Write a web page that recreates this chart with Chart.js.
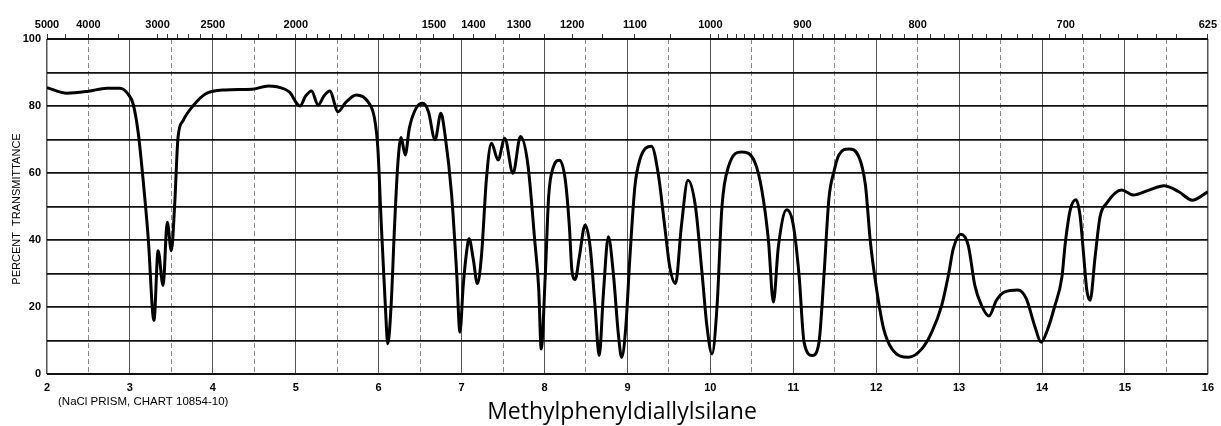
<!DOCTYPE html>
<html>
<head>
<meta charset="utf-8">
<script src="https://cdn.jsdelivr.net/npm/chart.js@4/dist/chart.umd.min.js"></script>
<style>
  html, body { margin: 0; padding: 0; background: #fff; }
  #wrap { width: 1221px; height: 426px; }
</style>
</head>
<body>
<div id="wrap"><canvas id="c" width="1221" height="426"></canvas></div>
<script>
// Wavelength (microns)
const wavelength = [
  2.00, 2.24, 2.50, 2.72, 2.88, 2.98, 3.04, 3.10, 3.16, 3.22, 3.29, 3.34, 3.40, 3.45, 3.50, 3.54, 3.58, 3.64, 3.76, 3.91,
  4.15, 4.47, 4.67, 4.87, 4.93, 5.02, 5.05, 5.12, 5.19, 5.27, 5.34, 5.41, 5.51, 5.60, 5.73, 5.87, 5.95, 5.99, 6.03, 6.08,
  6.11, 6.15, 6.19, 6.23, 6.27, 6.32, 6.37, 6.45, 6.53, 6.60, 6.68, 6.75, 6.80, 6.88, 6.94, 6.98, 7.02, 7.06, 7.09, 7.14,
  7.19, 7.24, 7.30, 7.36, 7.44, 7.52, 7.62, 7.71, 7.80, 7.88, 7.93, 7.96, 8.01, 8.05, 8.11, 8.18, 8.25, 8.30, 8.33, 8.37,
  8.42, 8.49, 8.55, 8.61, 8.66, 8.71, 8.77, 8.83, 8.89, 8.93, 8.98, 9.03, 9.09, 9.15, 9.29, 9.37, 9.45, 9.51, 9.58, 9.65,
  9.73, 9.82, 9.90, 9.96, 10.02, 10.08, 10.14, 10.22, 10.38, 10.54, 10.62, 10.70, 10.76, 10.82, 10.92, 11.00, 11.07, 11.13, 11.23, 11.31,
  11.37, 11.43, 11.49, 11.55, 11.67, 11.79, 11.87, 11.93, 12.01, 12.09, 12.19, 12.39, 12.55, 12.67, 12.79, 12.87, 12.93, 13.02, 13.11, 13.19,
  13.27, 13.36, 13.45, 13.55, 13.71, 13.81, 13.91, 13.99, 14.07, 14.15, 14.24, 14.28, 14.34, 14.41, 14.46, 14.50, 14.54, 14.58, 14.64, 14.70,
  14.78, 14.96, 15.10, 15.29, 15.47, 15.65, 15.81, 16.00
];
// Percent transmittance
const transmittance = [
  85.5, 83.8, 84.4, 85.3, 85.3, 83.5, 80.5, 72.0, 57.7, 40.8, 16.0, 36.8, 26.4, 45.3, 36.8, 50.7, 70.6, 75.6, 80.0, 83.6,
  84.8, 85.0, 86.0, 85.0, 84.0, 80.5, 80.0, 83.0, 84.5, 80.3, 83.0, 84.5, 78.3, 81.0, 83.3, 81.3, 76.3, 67.4, 45.4, 20.5,
  9.0, 20.5, 43.4, 62.4, 70.6, 65.4, 73.4, 79.3, 80.8, 78.3, 69.9, 77.8, 71.4, 53.4, 30.4, 12.5, 26.5, 36.4, 40.4, 34.4,
  27.0, 35.4, 58.4, 68.9, 63.9, 70.4, 59.9, 70.9, 62.4, 40.4, 25.4, 7.5, 30.0, 53.0, 62.0, 63.8, 58.0, 44.0, 31.0, 28.2,
  35.0, 44.5, 38.0, 20.0, 5.5, 24.0, 41.0, 30.0, 12.0, 5.0, 14.0, 35.0, 56.0, 64.0, 68.0, 60.0, 44.0, 32.0, 27.0, 44.0,
  57.8, 50.0, 30.0, 14.0, 6.0, 20.0, 50.0, 62.0, 66.3, 63.0, 55.0, 40.0, 21.5, 38.0, 49.0, 44.5, 29.4, 9.5, 5.5, 9.5,
  29.4, 52.4, 60.4, 65.4, 67.2, 64.9, 56.4, 39.4, 24.5, 13.5, 7.5, 5.0, 7.5, 12.5, 20.5, 29.4, 37.4, 41.7, 38.4, 26.4,
  20.5, 17.3, 22.0, 24.5, 25.1, 22.5, 14.5, 9.5, 13.5, 20.0, 29.0, 39.0, 49.0, 52.0, 47.0, 36.0, 25.0, 22.0, 35.0, 47.0,
  51.0, 54.9, 53.4, 54.9, 56.2, 54.4, 51.9, 54.4
];
// Top axis: wavenumber labels (cm-1)
const wavenumberLabels = [5000, 4000, 3000, 2500, 2000, 1500, 1400, 1300, 1200, 1100, 1000, 900, 800, 700, 625];
// Bottom axis labels (microns)
const micronLabels = [2, 3, 4, 5, 6, 7, 8, 9, 10, 11, 12, 13, 14, 15, 16];
// Y axis labels
const percentLabels = [0, 20, 40, 60, 80, 100];

const titleText = 'Methylphenyldiallylsilane';
const noteText = '(NaCl PRISM, CHART 10854-10)';
const yTitleText = 'PERCENT  TRANSMITTANCE';

// minor wavenumber ticks
const minorWavenumbers = [];
for (let w = 4500; w > 3000; w -= 500) minorWavenumbers.push(w);
for (let w = 2900; w > 2000; w -= 100) minorWavenumbers.push(w);
for (let w = 1950; w > 1000; w -= 50) minorWavenumbers.push(w);
for (let w = 990; w > 630; w -= 10) minorWavenumbers.push(w);
const allWavenumbers = Array.from(new Set(wavenumberLabels.concat(minorWavenumbers))).sort((a, b) => b - a);

const points = wavelength.map((x, i) => ({ x: x, y: transmittance[i] }));

const tickFont = { family: 'Liberation Sans', size: 11, weight: 'bold' };

const textPlugin = {
  id: 'texts',
  afterDraw(chart) {
    const ctx = chart.ctx;
    ctx.save();
    ctx.fillStyle = '#000';
    ctx.textBaseline = 'alphabetic';
    ctx.textAlign = 'center';
    ctx.font = '23px "Open Sans"';
    ctx.fillText(titleText, 622, 419);
    ctx.textAlign = 'left';
    ctx.font = '11.5px "Liberation Sans"';
    ctx.fillText(noteText, 58, 405);
    ctx.translate(20, 209);
    ctx.rotate(-Math.PI / 2);
    ctx.textAlign = 'center';
    ctx.font = '11px "Liberation Sans"';
    ctx.fillText(yTitleText, 0, 0);
    ctx.restore();
  }
};

new Chart(document.getElementById('c'), {
  type: 'line',
  data: {
    datasets: [{
      data: points,
      borderColor: '#000',
      borderWidth: 3,
      pointRadius: 0,
      fill: false,
      cubicInterpolationMode: 'monotone'
    }]
  },
  options: {
    responsive: false,
    animation: false,
    devicePixelRatio: 1,
    layout: { padding: { left: 0, right: 13, top: 0, bottom: 0 } },
    plugins: { legend: { display: false }, tooltip: { enabled: false } },
    scales: {
      x: {
        type: 'linear', position: 'bottom', min: 2, max: 16,
        afterFit(s) { s.height = 52; },
        ticks: {
          stepSize: 0.5, autoSkip: false, maxRotation: 0, padding: 7,
          color: '#000', font: tickFont,
          callback: (v) => micronLabels.includes(v) ? String(v) : ''
        },
        grid: {
          drawTicks: false,
          color: (c) => (c.tick && Number.isInteger(c.tick.value)) ? '#555' : '#8a8a8a',
          lineWidth: (c) => (c.tick && (c.tick.value === 2 || c.tick.value === 16)) ? 1.5 : 1
        },
        border: {
          display: false,
          dash: (c) => (c.tick && !Number.isInteger(c.tick.value)) ? [5, 3] : []
        }
      },
      x2: {
        type: 'linear', position: 'top', min: 2, max: 16,
        afterFit(s) { s.height = 39; },
        afterBuildTicks(s) { s.ticks = allWavenumbers.map(w => ({ value: 10000 / w })); },
        ticks: {
          autoSkip: false, maxRotation: 0, padding: 2,
          color: '#000', font: { family: 'Liberation Sans', size: 11, weight: 'bold' },
          callback: (v) => {
            const w = Math.round(10000 / v);
            return wavenumberLabels.includes(w) ? String(w) : '';
          }
        },
        grid: { drawOnChartArea: false, drawTicks: true, tickLength: 5, color: '#333', lineWidth: 1 },
        border: { display: false }
      },
      y: {
        type: 'linear', min: 0, max: 100,
        afterFit(s) { s.width = 47; },
        ticks: {
          stepSize: 10, autoSkip: false, padding: 6,
          color: '#000', font: tickFont,
          callback: (v) => percentLabels.includes(v) ? String(v) : ''
        },
        grid: {
          drawTicks: false,
          color: '#111',
          lineWidth: (c) => (c.tick && (c.tick.value === 0 || c.tick.value === 100)) ? 2 : 1.7
        },
        border: { display: false }
      }
    }
  },
  plugins: [textPlugin]
});
</script>
</body>
</html>
